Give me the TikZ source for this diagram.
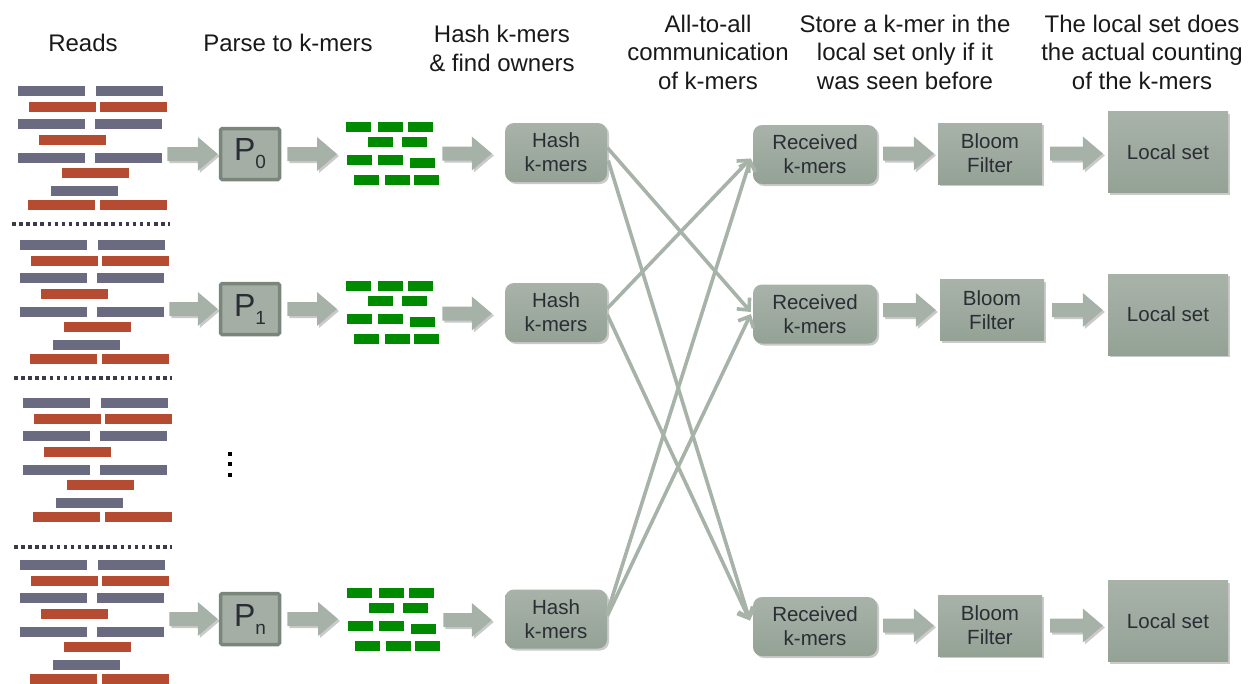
\documentclass[tikz,border=0pt]{standalone}
\usepackage{fontspec}
\setmainfont{Liberation Sans}
\usetikzlibrary{calc,shadows,arrows.meta}

\definecolor{readgray}{HTML}{6A6A80}
\definecolor{readred}{HTML}{B54C31}
\definecolor{kmergreen}{HTML}{008A00}
\definecolor{boxtop}{HTML}{A8B2A9}
\definecolor{boxbot}{HTML}{94A296}
\definecolor{pfill}{HTML}{A5AEA5}
\definecolor{pline}{HTML}{7A867B}
\definecolor{flowc}{HTML}{A6B2A7}
\definecolor{linkc}{HTML}{A7B3A9}
\definecolor{ink}{HTML}{2A2D33}
\definecolor{sepc}{HTML}{3A3A48}

\tikzset{
  head/.style={font=\fontsize{24}{28.5}\selectfont, align=center, text=black!90},
  softshadow/.style={drop shadow={shadow xshift=2pt, shadow yshift=-2pt, opacity=0.35, fill=black!60}},
  boxbase/.style={top color=boxtop, bottom color=boxbot, text=ink,
    font=\fontsize{20.5}{24}\selectfont, align=center, inner sep=0pt, softshadow},
  hashbox/.style={boxbase, rounded corners=9pt, minimum width=102pt, minimum height=59pt},
  recbox/.style={boxbase, rounded corners=9pt, minimum width=124pt, minimum height=59pt},
  bloombox/.style={boxbase, minimum width=104pt, minimum height=61pt},
  localbox/.style={boxbase, minimum width=120pt, minimum height=81pt},
  pbox/.style={fill=pfill, draw=pline, line width=3.5pt, rounded corners=1.5pt,
    minimum width=59pt, minimum height=51pt, inner sep=0pt, text=ink},
  fat/.style={fill=flowc, softshadow,
    to path={let \p1=(\tikztostart), \p2=(\tikztotarget) in
      (\x1,\y1-7pt) -- (\x2-20pt,\y1-7pt) -- (\x2-20pt,\y1-17pt) -- (\x2,\y1)
      -- (\x2-20pt,\y1+17pt) -- (\x2-20pt,\y1+7pt) -- (\x1,\y1+7pt) -- cycle}},
  lnk/.style={draw=linkc, line width=3.6pt, -{Straight Barb[length=9pt,width=17pt]}},
  sepline/.style={draw=sepc, line width=3.5pt, dash pattern=on 3.5pt off 3.6pt},
  group/.style={inner sep=0pt, anchor=north west},
}

% a stack of sequencing reads, top-left corner at (#2,#3)
\newcommand\readsgroup[3]{%
  \begin{scope}[shift={(#2,#3)}]
    \foreach \dx/\dy/\col in {0/0/readgray,78/0/readgray,11/16/readred,82/16/readred,
        0/33/readgray,77/33/readgray,21/49/readred,0/67/readgray,77/67/readgray,
        44/82/readred,33/100/readgray,10/114/readred,82/114/readred}
      \fill[\col] (\dx,\dy) rectangle ++(67,10);
  \end{scope}
  \node[group, minimum width=149pt, minimum height=124pt] (#1) at (#2,#3) {};
}

% a heap of k-mers, top-left corner at (#2,#3)
\newcommand\kmergroup[3]{%
  \begin{scope}[shift={(#2,#3)}]
    \foreach \dx/\dy in {0/0,32/0,62/0,22/15,56/15,1/33,32/33,64/36,8/53,39/53,68/53}
      \fill[kmergreen] (\dx,\dy) rectangle ++(25,10);
  \end{scope}
  \node[group, minimum width=93pt, minimum height=63pt] (#1) at (#2,#3) {};
}

\begin{document}
\begin{tikzpicture}[x=1pt,y=-1pt]
\useasboundingbox (0,0) rectangle (1248,683);

% column headings
\node[head] (hReads) at (83,43) {Reads};
\node[head] (hParse) at (288,43) {Parse to k-mers};
\node[head] (hHash) at (502,48.5) {Hash k-mers\\\& find owners};
\node[head] (hComm) at (708,52) {All-to-all\\communication\\of k-mers};
\node[head] (hStore) at (905,52) {Store a k-mer in the\\local set only if it\\was seen before};
\node[head] (hLocal) at (1142,52) {The local set does\\the actual counting\\of the k-mers};

% reads and separators
\readsgroup{reads0}{18}{86}
\readsgroup{reads1}{20}{240}
\readsgroup{readsD}{23}{398}
\readsgroup{readsN}{20}{560}
\draw[sepline] (12,224) -- (170,224);
\draw[sepline] (14,378) -- (172,378);
\draw[sepline] (14,547) -- (172,547);
\foreach \yy in {452,462,473}
  \fill[black] (228,\yy) rectangle ++(4,4);

% processors
\node[pbox] (p0) at (250,154) {\fontsize{32}{32}\selectfont P\raisebox{-8pt}{\fontsize{19}{19}\selectfont 0}};
\node[pbox] (p1) at (250,309) {\fontsize{32}{32}\selectfont P\raisebox{-8pt}{\fontsize{19}{19}\selectfont 1}};
\node[pbox] (pN) at (250,619) {\fontsize{32}{32}\selectfont P\raisebox{-8pt}{\fontsize{19}{19}\selectfont n}};

% k-mers
\kmergroup{kmers0}{346}{122}
\kmergroup{kmers1}{346}{281}
\kmergroup{kmersN}{347}{588}

% hashing
\node[hashbox] (hash0) at (556,152.5) {Hash\\k-mers};
\node[hashbox] (hash1) at (556,312.5) {Hash\\k-mers};
\node[hashbox] (hashN) at (556,619) {Hash\\k-mers};

% receiving side
\node[recbox] (rec0) at (815,154.5) {Received\\k-mers};
\node[recbox] (rec1) at (815,314) {Received\\k-mers};
\node[recbox] (recN) at (815,626.5) {Received\\k-mers};

\node[bloombox] (bloom0) at (990,153.5) {Bloom\\Filter};
\node[bloombox] (bloom1) at (992,310) {Bloom\\Filter};
\node[bloombox] (bloomN) at (990,625.5) {Bloom\\Filter};

\node[localbox] (local0) at (1168,152) {Local set};
\node[localbox] (local1) at (1168,314.5) {Local set};
\node[localbox] (localN) at (1168,621) {Local set};

% block arrows along each row
\foreach \r in {0,1,N}{
  \path[fat] (reads\r.east |- p\r.west) to ($(p\r.west)+(-1,0)$);
  \path[fat] ($(p\r.east)+(6,0)$) to ($(kmers\r.west)+(-9,0)$);
  \path[fat] ($(kmers\r.east |- hash\r.east)+(3,1)$) to ($(hash\r.west)+(-13,1)$);
  \path[fat] ($(rec\r.east |- bloom\r.west)+(6,0)$) to ($(bloom\r.west)+(-4,0)$);
  \path[fat] ($(bloom\r.east)+(8,0)$) to ($(local\r.west |- bloom\r.west)+(-5,0)$);
}

% all-to-all exchange
\draw[lnk] ($(hash0.east)+(0,-5)$) -- ($(rec1.west)+(-2,-2)$);
\draw[lnk] ($(hash0.east)+(1,8)$) -- ($(recN.west)+(-3,-6)$);
\draw[lnk] ($(hash1.east)+(0,-4)$) -- ($(rec0.west)+(-2,4)$);
\draw[lnk] ($(hash1.east)+(0,2)$) -- ($(recN.west)+(-3,-6)$);
\draw[lnk] ($(hashN.east)+(0,-6)$) -- ($(rec0.west)+(-2,4)$);
\draw[lnk] ($(hashN.east)+(0,-3)$) -- ($(rec1.west)+(-2,0)$);
\end{tikzpicture}
\end{document}
